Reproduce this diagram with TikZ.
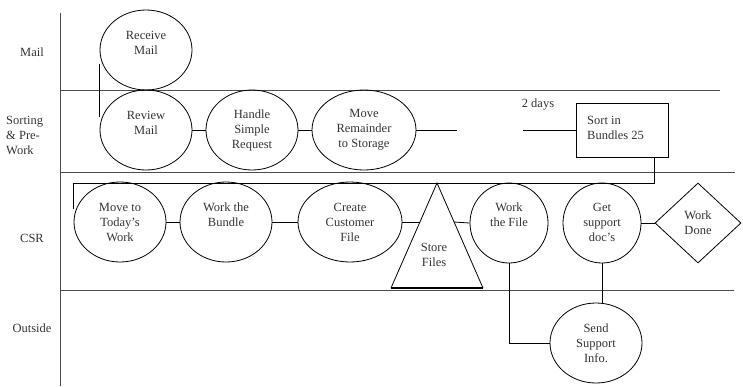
\documentclass[tikz,border=0pt]{standalone}
\usepackage{fontspec}
\setmainfont{Liberation Serif}
\usetikzlibrary{shapes.geometric}
\begin{document}
\begin{tikzpicture}[x=1pt,y=-1pt,
  font=\fontsize{12.5}{15}\selectfont,
  every node/.style={text=black!80},
  conn/.style={draw=black, line width=0.8pt},
  lane/.style={draw=black!70, line width=0.9pt},
  oval/.style={ellipse, draw=black, line width=0.8pt, inner sep=0pt, minimum width=92pt, minimum height=80pt},
  wide/.style={oval, minimum width=104pt},
  circ/.style={oval, minimum width=78pt},
  txt/.style={align=center, inner sep=0pt},
  lbl/.style={align=left, inner sep=0pt}
]
\useasboundingbox (0,0) rectangle (743,386);

% lanes
\draw[lane] (60,13) -- (60,386);
\draw[lane] (60,90) -- (720,90);
\draw[lane] (60,172) -- (735,172);
\draw[lane] (60,290) -- (734,290);

% lane labels
\node[txt] (lmail) at (32,52) {Mail};
\node[lbl, anchor=west] (lsort) at (6,135) {Sorting\\\& Pre-\\Work};
\node[txt] (lcsr) at (32,238) {CSR};
\node[txt] (lout) at (32,328) {Outside};

% Mail / sorting row
\node[oval] (rm) at (146,50) {};
\node[txt] (rmt) at (146,42.5) {Receive\\Mail};
\node[oval] (rv) at (146,130) {};
\node[txt] (rvt) at (146,122.5) {Review\\Mail};
\node[oval] (hs) at (252,130) {};
\node[txt] (hst) at (252,130) {Handle\\Simple\\Request};
\node[wide] (mr) at (364,130) {};
\node[txt] (mrt) at (364,130) {Move\\Remainder\\to Storage};
\coordinate (mrend) at (457,130);
\coordinate (dstart) at (523,130);
\node[txt] (days) at (538,105) {2 days};
\node[draw=black, line width=0.8pt, minimum width=92pt, minimum height=54pt, inner sep=0pt] (sb) at (622,130) {};
\node[lbl, anchor=west] (sbt) at (587,127.5) {Sort in\\Bundles 25};

\draw[conn] ([yshift=-14pt]rm.west) -- ([yshift=13pt]rv.west);
\draw[conn] (rv) -- (hs);
\draw[conn] (hs) -- (mr);
\draw[conn] (mr.east) -- (mrend);
\draw[conn] (dstart) -- (sb.west);

% CSR row
\coordinate (bx) at (654,183);
\coordinate (bl) at (73,183);
\coordinate (be) at (73,209);
\draw[conn] (sb.south -| bx) -- (bx) -- (bl) -- (be);

\node[oval] (mt) at (120,222) {};
\node[txt] (mtt) at (120,222) {Move to\\Today's\\Work};
\node[oval] (wb) at (226,222) {};
\node[txt] (wbt) at (226,214.5) {Work the\\Bundle};
\node[wide] (cc) at (350,222) {};
\node[txt] (cct) at (350,222) {Create\\Customer\\File};

\coordinate (ta) at (437,183);
\coordinate (tl) at (391,288);
\coordinate (tr) at (483,288);
\coordinate (tin) at (420,222);
\coordinate (tout) at (454,222);
\draw[conn] (tl) -- (ta) -- (tr);
\draw[draw=black, line width=2pt] (tl) -- (tr);
\node[txt] (tft) at (434,254.5) {Store\\Files};

\node[circ] (wf) at (509,223) {};
\node[txt] (wft) at (509,214.5) {Work\\the File};
\node[circ] (gs) at (602,223) {};
\node[txt] (gst) at (602,222) {Get\\support\\doc's};
\node[diamond, draw=black, line width=0.8pt, inner sep=0pt, minimum width=86pt, minimum height=80pt] (wd) at (698,223) {};
\node[txt] (wdt) at (698,223) {Work\\Done};

\draw[conn] (mt) -- (wb);
\draw[conn] (wb) -- (cc);
\draw[conn] (cc.east |- tin) -- (tin);
\draw[conn] (tout) -- (wf.west);
\draw[conn] (gs) -- (wd);

% Outside
\node[oval] (sd) at (596,343) {};
\node[txt] (sdt) at (596,343) {Send\\Support\\Info.};
\draw[conn] (wf.south) -- (wf.south |- sd.west) -- (sd.west);
\draw[conn] (gs.south) -- (gs.south |- sd.north);
\end{tikzpicture}
\end{document}
